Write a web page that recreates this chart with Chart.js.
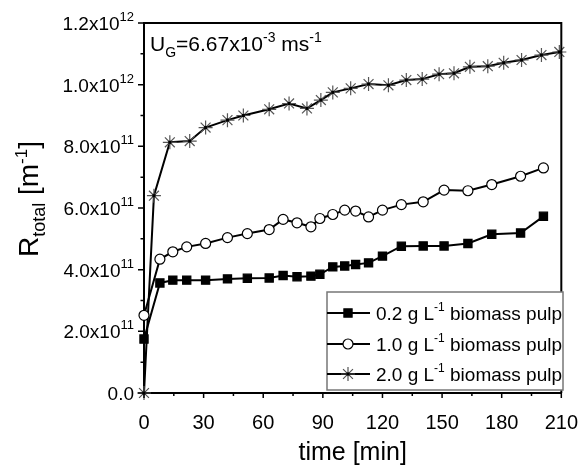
<!DOCTYPE html>
<html>
<head>
<meta charset="utf-8">
<script src="https://cdn.jsdelivr.net/npm/chart.js@4.4.1/dist/chart.umd.min.js"></script>
<style>
  html, body { margin: 0; padding: 0; background: #fff; }
  #wrap { width: 588px; height: 468px; }
</style>
</head>
<body>
<div id="wrap"><canvas id="chart" width="588" height="468"></canvas></div>
<script>
"use strict";

// time [min] for the 0.2 and 1.0 g/L runs
const timeLow = [0, 8, 14.5, 21.5, 31, 42, 52, 63, 70, 77, 84, 88.5, 95, 101, 106.5, 113, 120, 129.5, 140.5, 151, 163, 175, 189.5, 201];
// time [min] for the 2.0 g/L run
const timeHigh = [0, 5, 13, 23, 31, 42, 50, 63, 73, 82, 89, 95, 104, 113, 123, 132, 140, 148.5, 156, 164, 173, 181, 190, 200, 209];

// R_total in units of 1e11 m^-1
const pulp02 = [1.75, 3.57, 3.66, 3.66, 3.66, 3.70, 3.72, 3.73, 3.81, 3.77, 3.79, 3.85, 4.09, 4.12, 4.17, 4.22, 4.44, 4.76, 4.77, 4.77, 4.85, 5.15, 5.19, 5.73];
const pulp10 = [2.52, 4.34, 4.58, 4.74, 4.85, 5.04, 5.17, 5.30, 5.63, 5.52, 5.39, 5.66, 5.79, 5.93, 5.90, 5.71, 5.93, 6.11, 6.20, 6.58, 6.56, 6.76, 7.03, 7.30];
const pulp20 = [0, 6.40, 8.13, 8.17, 8.61, 8.85, 9.00, 9.20, 9.39, 9.23, 9.50, 9.75, 9.88, 10.02, 9.98, 10.15, 10.18, 10.34, 10.37, 10.58, 10.60, 10.71, 10.80, 10.96, 11.06];

const seriesLabels = ['0.2 g L', '1.0 g L', '2.0 g L'];
const yTickMain = ['0.0', '2.0x10', '4.0x10', '6.0x10', '8.0x10', '1.0x10', '1.2x10'];
const yTickExp = ['', '11', '11', '11', '11', '12', '12'];

const FONT = '"Liberation Sans", Arial, sans-serif';

function toPoints(ts, vs) {
    return ts.map((t, i) => ({ x: t, y: vs[i] * 1e11 }));
}

// draws a run of text pieces: [text, size, shift] ; returns end x
function drawRuns(ctx, x, y, runs) {
    let cx = x;
    runs.forEach(r => {
        ctx.font = r[1] + 'px ' + FONT;
        ctx.fillText(r[0], cx, y + (r[2] || 0));
        cx += ctx.measureText(r[0]).width;
    });
    return cx;
}
function runsWidth(ctx, runs) {
    let w = 0;
    runs.forEach(r => {
        ctx.font = r[1] + 'px ' + FONT;
        w += ctx.measureText(r[0]).width;
    });
    return w;
}

const pointStyles = ['rect', 'circle', 'star'];
const pointRadius = [5.8, 5, 7];
const pointFill = ['#000', '#fff', '#fff'];
const pointEdge = ['#000', '#000', '#555'];

const decorPlugin = {
    id: 'decor',
    afterDatasetsDraw(chart) {
        // small dark centre on the star markers
        const ctx = chart.ctx;
        const meta = chart.getDatasetMeta(2);
        ctx.save();
        ctx.fillStyle = '#000';
        meta.data.forEach(p => ctx.fillRect(p.x - 1.5, p.y - 1.5, 3, 3));
        ctx.restore();
    },
    afterDraw(chart) {
        const ctx = chart.ctx;
        const a = chart.chartArea;
        const xs = chart.scales.x;
        const ys = chart.scales.y;
        ctx.save();
        ctx.strokeStyle = '#000';
        ctx.fillStyle = '#000';

        // frame
        ctx.lineWidth = 2;
        ctx.beginPath();
        ctx.moveTo(a.left, a.top);
        ctx.lineTo(a.right, a.top);
        ctx.lineTo(a.right, a.bottom);
        ctx.stroke();

        // tick marks
        ctx.lineWidth = 1.5;
        ctx.beginPath();
        for (let t = 0; t <= 210; t += 15) {
            const px = xs.getPixelForValue(t);
            const len = t % 30 === 0 ? 5 : 3;
            ctx.moveTo(px, a.bottom);
            ctx.lineTo(px, a.bottom + len);
        }
        for (let k = 0; k <= 12; k++) {
            const py = ys.getPixelForValue(k * 1e11);
            const len = k % 2 === 0 ? 6 : 3.5;
            ctx.moveTo(a.left, py);
            ctx.lineTo(a.left - len, py);
        }
        ctx.stroke();

        // y tick labels with exponents
        ctx.textBaseline = 'alphabetic';
        ctx.textAlign = 'left';
        yTickMain.forEach((m, i) => {
            const py = ys.getPixelForValue(i * 2e11);
            const runs = [[m, 19, 0]];
            if (yTickExp[i]) runs.push([yTickExp[i], 13, -9]);
            const w = runsWidth(ctx, runs);
            drawRuns(ctx, a.left - 10 - w, py + 7, runs);
        });

        // y axis title
        ctx.save();
        const titleRuns = [['R', 28, 0], ['total', 18, 7], [' [m', 28, 0], ['-1', 17, -11], [']', 28, 0]];
        const tw = runsWidth(ctx, titleRuns);
        ctx.translate(38, 199);
        ctx.rotate(-Math.PI / 2);
        drawRuns(ctx, -tw / 2, 0, titleRuns);
        ctx.restore();

        // velocity annotation
        drawRuns(ctx, a.left + 6, 51, [['U', 21, 0], ['G', 14, 6], ['=6.67x10', 21, 0], ['-3', 14, -9], [' ms', 21, 0], ['-1', 14, -9]]);

        // legend
        const lx = 327, ly = 292, lw = 236, lh = 98;
        ctx.fillStyle = '#fff';
        ctx.fillRect(lx, ly, lw, lh);
        ctx.strokeStyle = '#777';
        ctx.lineWidth = 1.5;
        ctx.strokeRect(lx, ly, lw, lh);
        const rows = [313, 344, 374];
        rows.forEach((ry, i) => {
            ctx.strokeStyle = '#000';
            ctx.lineWidth = 2;
            ctx.beginPath();
            ctx.moveTo(lx, ry);
            ctx.lineTo(lx + 43, ry);
            ctx.stroke();
            ctx.fillStyle = pointFill[i];
            ctx.strokeStyle = pointEdge[i];
            ctx.lineWidth = 1.2;
            Chart.helpers.drawPoint(ctx, { pointStyle: pointStyles[i], radius: pointRadius[i], borderWidth: 1.2 }, lx + 21, ry);
            if (i === 2) {
                ctx.fillStyle = '#000';
                ctx.fillRect(lx + 19.5, ry - 1.5, 3, 3);
            }
            ctx.fillStyle = '#000';
            drawRuns(ctx, lx + 49, ry + 7, [[seriesLabels[i], 19, 0], ['-1', 12, -9], [' biomass pulp', 19, 0]]);
        });
        ctx.restore();
    }
};

function dataset(label, pts, i) {
    return {
        label: label,
        data: pts,
        borderColor: '#000',
        borderWidth: 2,
        pointStyle: pointStyles[i],
        pointRadius: pointRadius[i],
        pointBackgroundColor: pointFill[i],
        pointBorderColor: pointEdge[i],
        pointBorderWidth: 1.2,
        tension: 0,
        clip: false
    };
}

new Chart(document.getElementById('chart'), {
    type: 'line',
    data: {
        datasets: [
            dataset(seriesLabels[0], toPoints(timeLow, pulp02), 0),
            dataset(seriesLabels[1], toPoints(timeLow, pulp10), 1),
            dataset(seriesLabels[2], toPoints(timeHigh, pulp20), 2)
        ]
    },
    options: {
        responsive: false,
        animation: false,
        devicePixelRatio: 1,
        layout: { padding: { top: 23, right: 20, left: 0, bottom: 0 } },
        plugins: {
            legend: { display: false },
            tooltip: { enabled: false }
        },
        scales: {
            x: {
                type: 'linear',
                min: 0,
                max: 210,
                grid: { display: false },
                border: { display: true, color: '#000', width: 2 },
                ticks: {
                    stepSize: 30,
                    color: '#000',
                    padding: 10,
                    maxRotation: 0,
                    font: { family: FONT, size: 20 }
                },
                title: {
                    display: true,
                    text: 'time [min]',
                    color: '#000',
                    font: { family: FONT, size: 25 },
                    padding: { top: 0, bottom: 0 }
                },
                afterFit(scale) { scale.height = 75; }
            },
            y: {
                min: 0,
                max: 1.2e12,
                grid: { display: false },
                border: { display: true, color: '#000', width: 2 },
                ticks: { display: false, stepSize: 2e11 },
                afterFit(scale) { scale.width = 144; }
            }
        }
    },
    plugins: [decorPlugin]
});
</script>
</body>
</html>
